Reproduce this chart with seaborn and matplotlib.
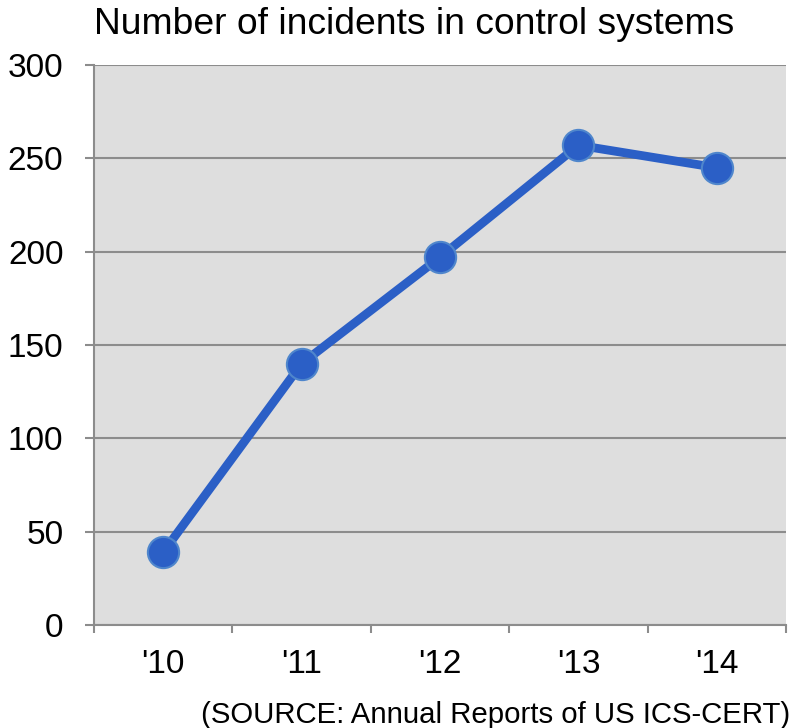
import numpy as np
import pandas as pd
import matplotlib
matplotlib.use("Agg")
import matplotlib.pyplot as plt
import seaborn as sns

sns.set_style("white")
plt.rcParams['font.family'] = ['Liberation Sans', 'DejaVu Sans']
plt.rcParams['text.color'] = 'black'
plt.rcParams['xtick.color'] = 'black'
plt.rcParams['ytick.color'] = 'black'

years = ["'10", "'11", "'12", "'13", "'14"]
incidents = [39, 140, 197, 257, 245]

df = pd.DataFrame({"pos": np.arange(len(years)), "incidents": incidents})

fig = plt.figure(figsize=(7.92, 7.28), dpi=100)
ax = fig.add_axes([0.1187, 0.1415, 0.8737, 0.7692])
ax.set_facecolor("#DEDEDE")

sns.lineplot(data=df, x="pos", y="incidents", ax=ax, color="#2B5FC6",
             linewidth=6.3, marker="o", markersize=22.5,
             markerfacecolor="#2B5FC6", markeredgecolor="#4F86CC",
             markeredgewidth=1.5, zorder=3)

ax.set_xlim(-0.5, len(years) - 0.5)
ax.set_ylim(0, 300)
ax.set_yticks(range(0, 301, 50))
ax.yaxis.grid(True, color="#8C8C8C", linewidth=1.5)
ax.set_axisbelow(True)

# category boundaries carry the tick marks, labels sit in the middle
ax.set_xticks(np.arange(-0.5, len(years), 1.0))
ax.set_xticklabels([])
ax.set_xticks(np.arange(len(years)), minor=True)
ax.set_xticklabels(years, minor=True)
ax.tick_params(axis="x", which="major", bottom=True, length=6, width=1.5,
               color="#8C8C8C")
ax.tick_params(axis="x", which="minor", bottom=True, length=0, pad=17,
               labelsize=24, labelcolor="black")
ax.tick_params(axis="y", left=True, length=6.5, width=1.5, color="#8C8C8C",
               pad=15.5, labelsize=24, labelcolor="black")

for side in ["top", "right"]:
    ax.spines[side].set_visible(False)
for side in ["left", "bottom"]:
    ax.spines[side].set_color("#8C8C8C")
    ax.spines[side].set_linewidth(1.5)

ax.set_xlabel("")
ax.set_ylabel("")
fig.text(0.523, 0.966, "Number of incidents in control systems", ha="center",
         va="center", fontsize=26.8)
fig.text(0.998, 0.018, "(SOURCE: Annual Reports of US ICS-CERT)", ha="right",
         va="center", fontsize=21.2)

fig.savefig("out.png", dpi=100)
